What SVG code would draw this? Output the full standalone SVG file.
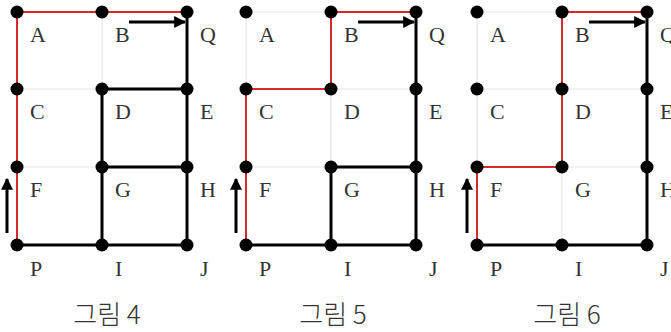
<svg xmlns="http://www.w3.org/2000/svg" width="671" height="332" viewBox="0 0 671 332">
<defs>
<style>
.grid{stroke:#e6e6e6;stroke-width:1.2;fill:none}
.blk{stroke:#000;stroke-width:3;fill:none;stroke-linecap:round}
.red{stroke:#d42a2a;stroke-width:2;fill:none}
.dot{fill:#000}
.lbl{font-family:"Liberation Serif","DejaVu Serif",serif;font-size:22px;fill:#333}
.cap{font-family:"Noto Sans CJK KR","Noto Sans",sans-serif;font-size:26px;fill:#333;text-anchor:middle;font-weight:300}
.arr{stroke:#000;stroke-width:3;fill:none}
</style>
<marker id="ah" viewBox="0 0 10 10" refX="9" refY="5" markerWidth="4" markerHeight="4" orient="auto" markerUnits="strokeWidth">
<path d="M0,0 L10,5 L0,10 z" fill="#000"/>
</marker>
<g id="gridcell">
<path class="grid" d="M0,0H170M0,77H170M0,155H170M0,233H170M0,0V233M85,0V233M170,0V233"/>
</g>
</defs>
<rect width="671" height="332" fill="#fff"/>

<!-- Figure 4 -->
<g id="fig4" transform="translate(17,12)">
<use href="#gridcell"/>
<g id="connectors4">
<path class="blk" d="M170,0V233M85,77H170M85,77V233M85,155H170M0,233H170"/>
<path class="red" d="M0,233V0H170"/>
<line class="arr" x1="112" y1="10" x2="168" y2="10" marker-end="url(#ah)"/>
<line class="arr" x1="-10" y1="221" x2="-10" y2="167" marker-end="url(#ah)"/>
</g>
<g id="n4A"><circle class="dot" cx="0" cy="0" r="6.5"/><text class="lbl" x="13" y="30">A</text></g>
<g id="n4B"><circle class="dot" cx="85" cy="0" r="6.5"/><text class="lbl" x="98" y="30">B</text></g>
<g id="n4Q"><circle class="dot" cx="170" cy="0" r="6.5"/><text class="lbl" x="183" y="30">Q</text></g>
<g id="n4C"><circle class="dot" cx="0" cy="77" r="6.5"/><text class="lbl" x="13" y="107">C</text></g>
<g id="n4D"><circle class="dot" cx="85" cy="77" r="6.5"/><text class="lbl" x="98" y="107">D</text></g>
<g id="n4E"><circle class="dot" cx="170" cy="77" r="6.5"/><text class="lbl" x="183" y="107">E</text></g>
<g id="n4F"><circle class="dot" cx="0" cy="155" r="6.5"/><text class="lbl" x="13" y="185">F</text></g>
<g id="n4G"><circle class="dot" cx="85" cy="155" r="6.5"/><text class="lbl" x="98" y="185">G</text></g>
<g id="n4H"><circle class="dot" cx="170" cy="155" r="6.5"/><text class="lbl" x="183" y="185">H</text></g>
<g id="n4P"><circle class="dot" cx="0" cy="233" r="6.5"/><text class="lbl" x="13" y="264">P</text></g>
<g id="n4I"><circle class="dot" cx="85" cy="233" r="6.5"/><text class="lbl" x="98" y="264">I</text></g>
<g id="n4J"><circle class="dot" cx="170" cy="233" r="6.5"/><text class="lbl" x="183" y="264">J</text></g>
<text class="cap" x="90" y="312">그림 4</text>
</g>

<!-- Figure 5 -->
<g id="fig5" transform="translate(246,12)">
<use href="#gridcell"/>
<g id="connectors5">
<path class="blk" d="M170,0V233M85,155H170M85,155V233M0,233H170"/>
<path class="red" d="M0,233V77H85V0H170"/>
<line class="arr" x1="112" y1="10" x2="168" y2="10" marker-end="url(#ah)"/>
<line class="arr" x1="-10" y1="221" x2="-10" y2="167" marker-end="url(#ah)"/>
</g>
<g id="n5A"><circle class="dot" cx="0" cy="0" r="6.5"/><text class="lbl" x="13" y="30">A</text></g>
<g id="n5B"><circle class="dot" cx="85" cy="0" r="6.5"/><text class="lbl" x="98" y="30">B</text></g>
<g id="n5Q"><circle class="dot" cx="170" cy="0" r="6.5"/><text class="lbl" x="183" y="30">Q</text></g>
<g id="n5C"><circle class="dot" cx="0" cy="77" r="6.5"/><text class="lbl" x="13" y="107">C</text></g>
<g id="n5D"><circle class="dot" cx="85" cy="77" r="6.5"/><text class="lbl" x="98" y="107">D</text></g>
<g id="n5E"><circle class="dot" cx="170" cy="77" r="6.5"/><text class="lbl" x="183" y="107">E</text></g>
<g id="n5F"><circle class="dot" cx="0" cy="155" r="6.5"/><text class="lbl" x="13" y="185">F</text></g>
<g id="n5G"><circle class="dot" cx="85" cy="155" r="6.5"/><text class="lbl" x="98" y="185">G</text></g>
<g id="n5H"><circle class="dot" cx="170" cy="155" r="6.5"/><text class="lbl" x="183" y="185">H</text></g>
<g id="n5P"><circle class="dot" cx="0" cy="233" r="6.5"/><text class="lbl" x="13" y="264">P</text></g>
<g id="n5I"><circle class="dot" cx="85" cy="233" r="6.5"/><text class="lbl" x="98" y="264">I</text></g>
<g id="n5J"><circle class="dot" cx="170" cy="233" r="6.5"/><text class="lbl" x="183" y="264">J</text></g>
<text class="cap" x="87" y="312">그림 5</text>
</g>

<!-- Figure 6 -->
<g id="fig6" transform="translate(477,12)">
<use href="#gridcell"/>
<g id="connectors6">
<path class="blk" d="M170,0V233M0,233H170"/>
<path class="red" d="M0,233V155H85V0H170"/>
<line class="arr" x1="112" y1="10" x2="168" y2="10" marker-end="url(#ah)"/>
<line class="arr" x1="-10" y1="221" x2="-10" y2="167" marker-end="url(#ah)"/>
</g>
<g id="n6A"><circle class="dot" cx="0" cy="0" r="6.5"/><text class="lbl" x="13" y="30">A</text></g>
<g id="n6B"><circle class="dot" cx="85" cy="0" r="6.5"/><text class="lbl" x="98" y="30">B</text></g>
<g id="n6Q"><circle class="dot" cx="170" cy="0" r="6.5"/><text class="lbl" x="183" y="30">Q</text></g>
<g id="n6C"><circle class="dot" cx="0" cy="77" r="6.5"/><text class="lbl" x="13" y="107">C</text></g>
<g id="n6D"><circle class="dot" cx="85" cy="77" r="6.5"/><text class="lbl" x="98" y="107">D</text></g>
<g id="n6E"><circle class="dot" cx="170" cy="77" r="6.5"/><text class="lbl" x="183" y="107">E</text></g>
<g id="n6F"><circle class="dot" cx="0" cy="155" r="6.5"/><text class="lbl" x="13" y="185">F</text></g>
<g id="n6G"><circle class="dot" cx="85" cy="155" r="6.5"/><text class="lbl" x="98" y="185">G</text></g>
<g id="n6H"><circle class="dot" cx="170" cy="155" r="6.5"/><text class="lbl" x="183" y="185">H</text></g>
<g id="n6P"><circle class="dot" cx="0" cy="233" r="6.5"/><text class="lbl" x="13" y="264">P</text></g>
<g id="n6I"><circle class="dot" cx="85" cy="233" r="6.5"/><text class="lbl" x="98" y="264">I</text></g>
<g id="n6J"><circle class="dot" cx="170" cy="233" r="6.5"/><text class="lbl" x="183" y="264">J</text></g>
<text class="cap" x="90" y="312">그림 6</text>
</g>
</svg>
